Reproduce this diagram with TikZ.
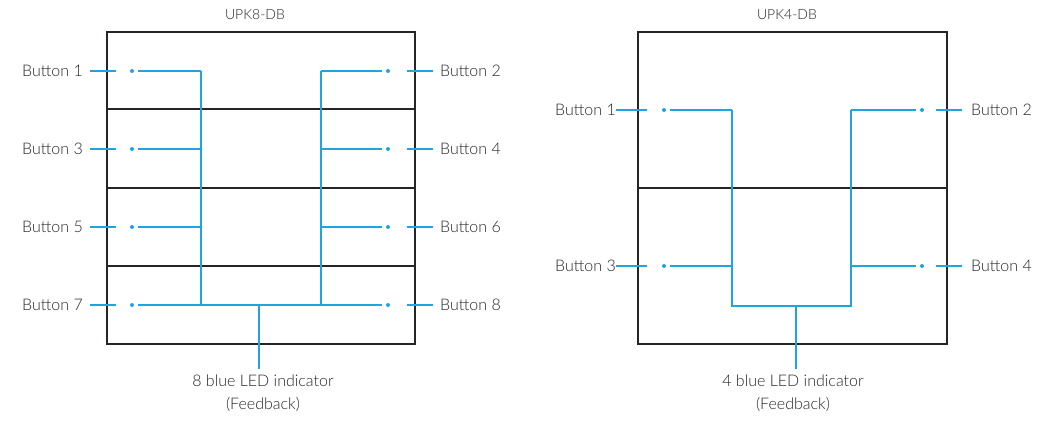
\documentclass[tikz,border=0pt]{standalone}
\usepackage{fontspec}
\setmainfont{Lato}[UprightFont=* Light]
\usetikzlibrary{positioning}

\definecolor{ledblue}{RGB}{30,165,225}
\definecolor{inkgray}{RGB}{40,36,37}

\tikzset{
  panel/.style={draw=inkgray, line width=1.7pt},
  wire/.style={draw=ledblue, line width=1.2pt},
  led/.style={circle, fill=ledblue, inner sep=0pt, minimum size=4pt},
  btn/.style={inner sep=0pt, text=inkgray, font=\fontsize{16}{20}\selectfont},
  title/.style={inner sep=0pt, text=inkgray, font=\fontsize{14}{17}\selectfont},
  note/.style={inner sep=0pt, align=center, text=inkgray, font=\fontsize{16}{23}\selectfont}
}

\begin{document}
\begin{tikzpicture}[x=1pt, y=-1pt]
        \useasboundingbox (0,0) rectangle (1059,421);

        % --- UPK8-DB ---
        \node[title] (t8) at (255,15) {UPK8-DB};
        \draw[panel] (107,32) rectangle (415,344);
        \foreach \y in {109,188,266}
            \draw[panel] (107,\y) -- (415,\y);

        \foreach \n/\y in {1/71, 3/149, 5/227, 7/305} {
            \node[btn, anchor=east] (la\n) at (83,\y) {Button \n};
            \draw[wire] ([xshift=7pt]la\n.east) -- ++(26,0);
            \node[led] (da\n) at (132,\y) {};
        }
        \foreach \n/\y in {2/71, 4/149, 6/227, 8/305} {
            \node[btn, anchor=west] (ra\n) at (440,\y) {Button \n};
            \draw[wire] ([xshift=-7pt]ra\n.west) -- ++(-26,0);
            \node[led] (ea\n) at (388,\y) {};
        }
        % 配線
        \coordinate (jl8) at (201,305);
        \coordinate (jr8) at (321,305);
        \foreach \n in {1,3,5}
            \draw[wire, shorten <=4pt] (da\n) -- (da\n -| jl8);
        \foreach \n in {2,4,6}
            \draw[wire, shorten <=4pt] (ea\n) -- (ea\n -| jr8);
        \draw[wire] (da1 -| jl8) -- (jl8);
        \draw[wire] (ea2 -| jr8) -- (jr8);
        \draw[wire, shorten <=4pt, shorten >=4pt] (da7) -- (ea8);

        \node[note, anchor=north] (f8) at (263,375) {8 blue LED indicator\\(Feedback)};
        \draw[wire] (259,305) -- (259,369);

        % --- UPK4-DB ---
        \node[title] (t4) at (787,15) {UPK4-DB};
        \draw[panel] (638,32) rectangle (947,344);
        \draw[panel] (638,188) -- (947,188);

        \foreach \n/\y in {1/110, 3/266} {
            \node[btn, anchor=east] (lb\n) at (616,\y) {Button \n};
            \draw[wire] (lb\n.east) -- ++(31,0);
            \node[led] (db\n) at (664,\y) {};
        }
        \foreach \n/\y in {2/110, 4/266} {
            \node[btn, anchor=west] (rb\n) at (971,\y) {Button \n};
            \draw[wire] ([xshift=-9pt]rb\n.west) -- ++(-26,0);
            \node[led] (eb\n) at (922,\y) {};
        }
        % 配線
        \coordinate (jl4) at (732,306);
        \coordinate (jr4) at (851,306);
        \foreach \n in {1,3}
            \draw[wire, shorten <=4pt] (db\n) -- (db\n -| jl4);
        \foreach \n in {2,4}
            \draw[wire, shorten <=4pt] (eb\n) -- (eb\n -| jr4);
        \draw[wire] (db1 -| jl4) -- (jl4) -- (jr4) -- (eb2 -| jr4);

        \node[note, anchor=north] (f4) at (793,375) {4 blue LED indicator\\(Feedback)};
        \draw[wire] (796,306) -- (796,369);
\end{tikzpicture}
\end{document}
